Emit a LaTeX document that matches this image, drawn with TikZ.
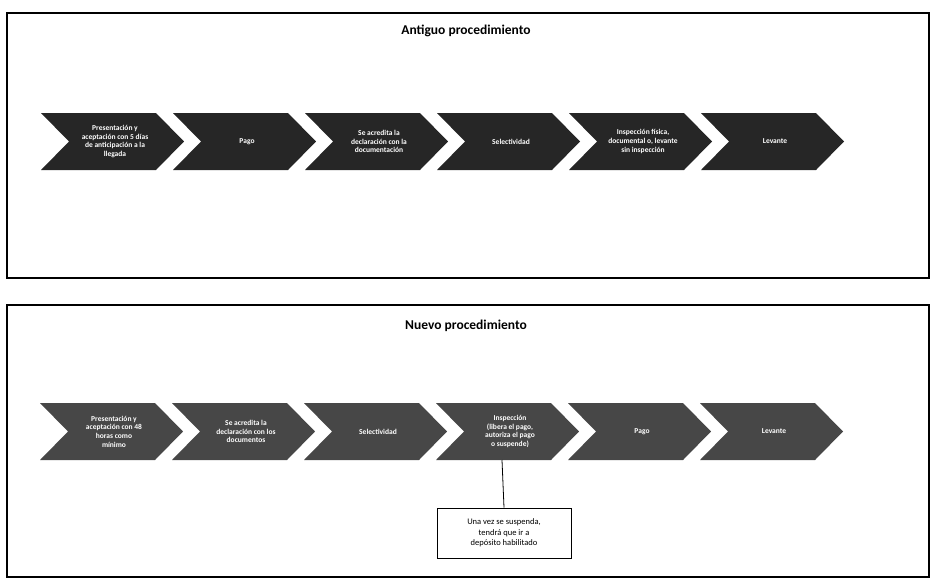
\documentclass[tikz,border=0pt]{standalone}
\usepackage{fontspec}
\setmainfont{Carlito}
\begin{document}
\begin{tikzpicture}[x=1pt,y=-1pt,
  frame/.style={draw=black,line width=2.2pt},
  chevfill/.style={fill=black!85,draw=none},
  chevfillnew/.style={fill=black!72,draw=none},
  chevtext/.style={text=white,font=\fontsize{7.5}{8.6}\selectfont\bfseries,align=center,inner sep=0pt},
  titletext/.style={font=\fontsize{13.5}{15}\selectfont\bfseries},
  callout/.style={draw=black,line width=0.8pt,fill=white,minimum width=134pt,minimum height=50pt,align=center,font=\fontsize{8.5}{10.5}\selectfont,inner sep=2pt}]
\useasboundingbox (0,0) rectangle (932,582);
% frames
\draw[frame] (7,13) rectangle (929,278);
\draw[frame] (7,305) rectangle (929,577);
\node[titletext] (t1) at (466,31) {Antiguo procedimiento};
\node[titletext] (t2) at (466,326) {Nuevo procedimiento};
% old chevrons
\def\yt{113}\def\yb{170}\def\ym{141.5}
\foreach \i/\txt in {0/{Presentación y\\aceptación con 5 días\\de anticipación a la\\llegada},
                     1/{Pago},
                     2/{Se acredita la\\declaración con la\\documentación},
                     3/{Selectividad},
                     4/{Inspección física,\\documental o, levante\\sin inspección},
                     5/{Levante}}{
  \pgfmathsetmacro{\xo}{41+132*\i}
  \fill[chevfill] (\xo,\yt) -- (\xo+115,\yt) -- (\xo+143,\ym) -- (\xo+115,\yb) -- (\xo,\yb) -- (\xo+28,\ym) -- cycle;
  \node[chevtext] (o\i) at (\xo+74,\ym) {\txt};
}
% new chevrons
\def\nyt{403}\def\nyb{460}\def\nym{431.5}
\foreach \i/\txt in {0/{Presentación y\\aceptación con 48\\horas como\\mínimo},
                     1/{Se acredita la\\declaración con los\\documentos},
                     2/{Selectividad},
                     3/{Inspección\\(libera el pago,\\autoriza el pago\\o suspende)},
                     4/{Pago},
                     5/{Levante}}{
  \pgfmathsetmacro{\xo}{40+132*\i}
  \fill[chevfillnew] (\xo,\nyt) -- (\xo+115,\nyt) -- (\xo+143,\nym) -- (\xo+115,\nyb) -- (\xo,\nyb) -- (\xo+28,\nym) -- cycle;
  \node[chevtext] (n\i) at (\xo+74,\nym) {\txt};
  \coordinate (nb\i) at (\xo+66,\nyb);
}
\node[callout] (c) at (504,533) {Una vez se suspenda,\\tendrá que ir a\\depósito habilitado};
\draw[line width=0.8pt] (nb3) -- (c.north);
\end{tikzpicture}
\end{document}
